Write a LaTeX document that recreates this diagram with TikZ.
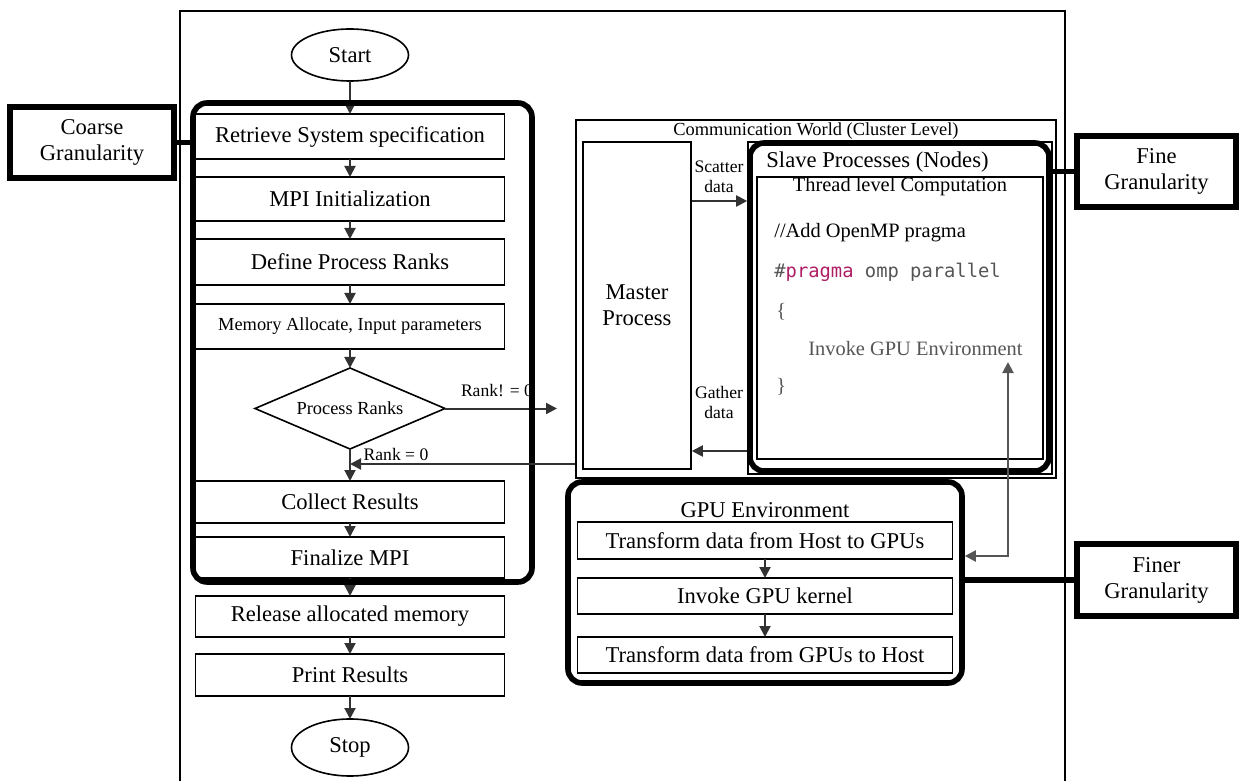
\documentclass[tikz,border=0pt]{standalone}
\usepackage{fontspec}
\setmainfont{Liberation Serif}
\setmonofont{DejaVu Sans Mono}
\usepackage{tikz}
\usepackage{xcolor}
\usetikzlibrary{arrows.meta,positioning,shapes.geometric}
\definecolor{arrowgray}{RGB}{50,50,50}
\definecolor{linkgray}{RGB}{85,85,85}
\definecolor{pragmared}{RGB}{175,30,100}
\definecolor{codegray}{RGB}{85,85,85}
\newcommand{\mainsz}{\fontsize{11.3}{13}\selectfont}
\newcommand{\smallsz}{\fontsize{9.2}{10}\selectfont}
\newcommand{\labsz}{\fontsize{8.8}{10}\selectfont}
\newcommand{\codesz}{\fontsize{10.2}{12}\selectfont}

\begin{document}
\begin{tikzpicture}[x=0.5pt,y=-0.5pt,
box/.style={draw,line width=0.8pt,outer sep=0pt,minimum width=154.5pt,minimum height=22pt,align=center,font=\mainsz},
gbox/.style={box,minimum width=187.5pt,minimum height=18pt},
term/.style={draw,ellipse,line width=0.8pt,outer sep=0pt,minimum width=58.5pt,minimum height=26pt,font=\mainsz},
decision/.style={draw,diamond,aspect=2.35,line width=0.8pt,outer sep=0pt,minimum width=95pt,minimum height=40.5pt,inner sep=0pt,font=\smallsz},
grain/.style={draw,line width=2.6pt,minimum width=82pt,minimum height=35.5pt,align=center,font=\mainsz,inner sep=1pt},
grpbox/.style={draw,line width=2.8pt,rounded corners=7pt},
code/.style={anchor=west,inner sep=0pt,font=\codesz},
arrow/.style={-{Triangle[length=5.5pt,width=5.5pt]},line width=1pt,draw=arrowgray},
dblarrow/.style={{Triangle[length=5.5pt,width=5.5pt]}-{Triangle[length=5.5pt,width=5.5pt]},line width=1pt,draw=linkgray},
grainlink/.style={line width=2.6pt}
]
\useasboundingbox (0,0) rectangle (1239,781);
% outer frame
\draw[line width=0.6pt] (180,790) -- (180,11) -- (1065,11) -- (1065,790);

% main flow
\node[term] (start) at (350,55) {Start};
\node[box,minimum height=22.5pt,below=16.5pt of start] (retr) {Retrieve System specification};
\node[box,below=9pt of retr] (mpiinit) {MPI Initialization};
\node[box,minimum height=23pt,below=9pt of mpiinit] (defrank) {Define Process Ranks};
\node[box,minimum height=22.5pt,font=\smallsz,below=9.5pt of defrank] (memalloc) {Memory Allocate, Input parameters};
\node[decision,below=9.5pt of memalloc] (rankchk) {Process Ranks};
\node[box,minimum height=21pt,below=16pt of rankchk] (collect) {Collect Results};
\node[box,minimum height=20.5pt,below=7pt of collect] (finalize) {Finalize MPI};
\node[box,minimum height=20.5pt,below=9pt of finalize] (release) {Release allocated memory};
\node[box,minimum height=21pt,below=8.5pt of release] (printres) {Print Results};
\node[term,minimum height=28.5pt,below=11.5pt of printres] (stop) {Stop};

\draw[arrow] (start) -- (retr);
\draw[arrow] (retr) -- (mpiinit);
\draw[arrow] (mpiinit) -- (defrank);
\draw[arrow] (defrank) -- (memalloc);
\draw[arrow] (memalloc) -- (rankchk);
\draw[arrow] (rankchk) -- (collect);
\draw[arrow] (collect) -- (finalize);
\draw[arrow] (finalize) -- (release);
\draw[arrow] (release) -- (printres);
\draw[arrow] (printres) -- (stop);

% rank branches
\node[font=\labsz] (rnzlab) at (497,391) {Rank! = 0};
\coordinate (rnzend) at (557,408);
\draw[arrow] (rankchk.east) -- (rankchk.east -| rnzend);

% coarse level
\node[grain] (coarselab) at (92,142.5) {Coarse\\Granularity};
\node[grpbox,minimum width=169.5pt,minimum height=239.5pt] (coarse) at (362.5,342.5) {};
\draw[grainlink] (coarselab.east) -- (coarselab.east -| coarse.west);

% cluster level
\node[draw,line width=0.8pt,minimum width=240pt,minimum height=179pt] (comm) at (816,299) {};
\node[font=\smallsz] (commlab) at (816,131) {Communication World (Cluster Level)};
\node[draw,line width=0.8pt,minimum width=54pt,minimum height=163.5pt,align=center,font=\mainsz] (master) at (637,305.5) {Master\\Process};
\node[draw,line width=0.6pt,minimum width=152pt,minimum height=166pt] (slaveback) at (900,308) {};
\node[grpbox,minimum width=149.5pt,minimum height=164pt] (slave) at (899.5,307) {};
\node[anchor=west,inner sep=0pt,font=\mainsz] (slavelab) at (766,162) {Slave Processes (Nodes)};
\node[draw,line width=0.8pt,minimum width=143pt,minimum height=141pt] (thread) at (900,318) {};
\node[font=\codesz] (threadlab) at (900,187) {Thread level Computation};
\node[code] (cmt) at (774,233) {//Add OpenMP pragma};
\node[code] (prag) at (774,272) {\fontsize{9.4}{11}\ttfamily\color{codegray}\#\textcolor{pragmared}{pragma} omp parallel};
\node[code,text=codegray] (lbrace) at (776,312) {\{};
\node[code,text=codegray] (inv) at (808,349) {Invoke GPU Environment};
\node[code,text=codegray] (rbrace) at (776,387) {\}};

\node[font=\labsz,align=center] (scatlab) at (719,177) {Scatter\\data};
\draw[arrow] (master.east |- 0,201) -- (slave.west |- 0,201);
\node[font=\labsz,align=center] (gathlab) at (719,402) {Gather\\data};
\draw[arrow] (slave.west |- 0,451) -- (master.east |- 0,451);

\node[font=\labsz] (rzlab) at (396,454) {Rank = 0};
\draw[arrow] (comm.west |- 0,464) -- (rankchk.south |- 0,464);

\node[grain,minimum width=79.5pt] (finelab) at (1156.5,171.5) {Fine\\Granularity};
\draw[grainlink] (finelab.west) -- (finelab.west -| slave.east);

% gpu level
\node[grpbox,minimum width=197pt,minimum height=100.5pt] (gpu) at (765,582.5) {};
\node[font=\mainsz] (gpulab) at (765,510) {GPU Environment};
\node[gbox,minimum height=18.5pt] (h2g) at (765,540.5) {Transform data from Host to GPUs};
\node[gbox,below=9.5pt of h2g] (kern) {Invoke GPU kernel};
\node[gbox,below=11.5pt of kern] (g2h) {Transform data from GPUs to Host};
\draw[arrow] (h2g) -- (kern);
\draw[arrow] (kern) -- (g2h);

\node[grain,minimum width=79.5pt,minimum height=36pt] (finerlab) at (1156.5,580) {Finer\\Granularity};
\draw[grainlink] (finerlab.west) -- (finerlab.west -| gpu.east);

\coordinate (invtip) at (1008,362);
\draw[dblarrow] (invtip) |- (gpu.east |- 0,556);
\end{tikzpicture}
\end{document}
